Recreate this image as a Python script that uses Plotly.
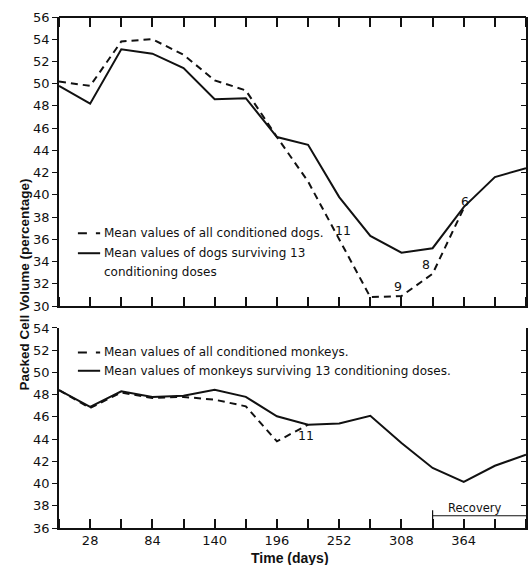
import plotly.graph_objects as go

# Sampling days (every 4 weeks)
days = [0, 28, 56, 84, 112, 140, 168, 196, 224, 252, 280, 308, 336, 364, 392, 420]

# Dogs: packed cell volume (%)
dogs_all = [50.2, 49.8, 53.8, 54.0, 52.6, 50.3, 49.4, 45.2, 41.2, 36.0, 30.8, 30.9, 32.9, 38.8]
dogs_surv = [49.8, 48.2, 53.1, 52.7, 51.4, 48.6, 48.7, 45.2, 44.5, 39.8, 36.3, 34.8, 35.2, 38.9, 41.6, 42.4]

# Monkeys: packed cell volume (%)
monk_all = [48.4, 46.8, 48.2, 47.7, 47.8, 47.55, 46.95, 43.8, 45.3]
monk_surv = [48.4, 46.9, 48.3, 47.8, 47.9, 48.45, 47.8, 46.05, 45.3, 45.4, 46.1, 43.65, 41.4, 40.15, 41.6, 42.6]

# Number of animals remaining at selected points
dog_counts = [(252, "11"), (308, "9"), (336, "8"), (364, "6")]
monk_counts = [(224, "11")]

x_tick_vals = list(range(0, 421, 28))
x_tick_text = [str(d) if (d - 28) % 56 == 0 else "" for d in x_tick_vals]

INK = "#111111"
FONT = "DejaVu Sans"
TITLE_FONT = "Liberation Sans"

top_dom = [0.4344, 1.0]
bot_dom = [0.0, 0.3914]

fig = go.Figure()

fig.add_trace(go.Scatter(x=days[:len(dogs_all)], y=dogs_all, mode="lines",
                         line=dict(color=INK, width=2, dash="7px,5px"),
                         xaxis="x", yaxis="y", showlegend=False))
fig.add_trace(go.Scatter(x=days, y=dogs_surv, mode="lines",
                         line=dict(color=INK, width=2),
                         xaxis="x", yaxis="y", showlegend=False))
fig.add_trace(go.Scatter(x=days[:len(monk_all)], y=monk_all, mode="lines",
                         line=dict(color=INK, width=2, dash="7px,5px"),
                         xaxis="x2", yaxis="y2", showlegend=False))
fig.add_trace(go.Scatter(x=days, y=monk_surv, mode="lines",
                         line=dict(color=INK, width=2),
                         xaxis="x2", yaxis="y2", showlegend=False))

# Empty traces that register the extra tick axes
for xa, ya in [("x", "y3"), ("x3", "y"), ("x4", "y"), ("x2", "y4"), ("x5", "y2")]:
    fig.add_trace(go.Scatter(x=[None], y=[None], xaxis=xa, yaxis=ya,
                             showlegend=False, hoverinfo="skip"))

base_x = dict(range=[0, 420], tickvals=x_tick_vals, showgrid=False, zeroline=False,
              tickcolor=INK, tickwidth=1.5, ticklen=9)


def tick_axis(over, side, pos, line=False):
    # Axis carrying only tick marks pointing into a panel
    return dict(base_x, overlaying=over, side=side, anchor="free", position=pos,
                ticks="outside", showticklabels=False, showline=line,
                linecolor=INK, linewidth=1.5)


y_common = dict(dtick=2, tickcolor=INK, showgrid=False, zeroline=False,
                linecolor=INK, linewidth=1.5, showline=True)

fig.update_layout(
    width=532, height=565,
    margin=dict(l=59, r=6, t=17, b=37),
    paper_bgcolor="white", plot_bgcolor="white",
    showlegend=False,
    # top panel
    xaxis=dict(base_x, anchor="y", ticks="", showticklabels=False, showline=True,
               linecolor=INK, linewidth=1.5),
    xaxis3=tick_axis("x", "top", top_dom[0]),
    xaxis4=tick_axis("x", "bottom", top_dom[1], line=True),
    yaxis=dict(y_common, domain=top_dom, range=[30, 56], ticks="outside", ticklen=5,
               tickwidth=1, anchor="x",
               tickfont=dict(family=FONT, size=13, color=INK)),
    yaxis3=dict(y_common, domain=top_dom, range=[30, 56], ticks="inside", ticklen=5,
                tickwidth=1, side="right", overlaying="y", anchor="x",
                showticklabels=False),
    # bottom panel
    xaxis2=dict(base_x, anchor="y2", ticks="", ticktext=x_tick_text, showline=True,
                linecolor=INK, linewidth=1.5,
                tickfont=dict(family=FONT, size=13, color=INK)),
    xaxis5=tick_axis("x2", "top", bot_dom[0]),
    yaxis2=dict(y_common, domain=bot_dom, range=[36, 54], ticks="outside", ticklen=5,
                tickwidth=1, anchor="x2",
                tickfont=dict(family=FONT, size=13, color=INK)),
    yaxis4=dict(y_common, domain=bot_dom, range=[36, 54], ticks="inside", ticklen=5,
                tickwidth=1, side="right", overlaying="y2", anchor="x2",
                showticklabels=False),
)

shapes = []
annotations = []
LEG_FONT = dict(family=FONT, size=12, color=INK)


def legend_row(xref, yref, y, dashed, text):
    shapes.append(dict(type="line", xref=xref, yref=yref, x0=17, x1=37, y0=y, y1=y,
                       line=dict(color=INK, width=2, dash="dash" if dashed else "solid")))
    annotations.append(dict(xref=xref, yref=yref, x=39, y=y, text=text, showarrow=False,
                            xanchor="left", yanchor="middle", font=LEG_FONT))


legend_row("x", "y", 36.55, True, "Mean values of all conditioned dogs.")
legend_row("x", "y", 34.75, False, "Mean values of dogs surviving 13")
annotations.append(dict(xref="x", yref="y", x=39, y=33.1, text="conditioning doses",
                        showarrow=False, xanchor="left", yanchor="middle", font=LEG_FONT))

legend_row("x2", "y2", 51.8, True, "Mean values of all conditioned monkeys.")
legend_row("x2", "y2", 50.15, False, "Mean values of monkeys surviving 13 conditioning doses.")

# Animal counts beside the curves
count_offsets = {252: (3.5, 0.8), 308: (-3, 0.9), 336: (-6, 0.8), 364: (1, 0.6)}
for d, txt in dog_counts:
    idx = days.index(d)
    dx, dy = count_offsets[d]
    annotations.append(dict(xref="x", yref="y", x=d + dx, y=dogs_all[idx] + dy, text=txt,
                            showarrow=False, font=dict(family=FONT, size=12.5, color=INK)))
for d, txt in monk_counts:
    idx = days.index(d)
    annotations.append(dict(xref="x2", yref="y2", x=d - 2, y=monk_all[idx] - 1.0, text=txt,
                            showarrow=False, font=dict(family=FONT, size=12.5, color=INK)))

# Recovery period bracket
shapes.append(dict(type="line", xref="x2", yref="y2", x0=336, x1=420, y0=37.1, y1=37.1,
                   line=dict(color=INK, width=1.2)))
shapes.append(dict(type="line", xref="x2", yref="y2", x0=336, x1=336, y0=36.3, y1=37.6,
                   line=dict(color=INK, width=1.2)))
annotations.append(dict(xref="x2", yref="y2", x=374, y=37.8, text="Recovery",
                        showarrow=False, font=dict(family=FONT, size=11.5, color=INK)))

# Axis titles
annotations.append(dict(xref="paper", yref="paper", x=0, y=0.4755, xshift=-44,
                        text="<b>Packed Cell Volume (percentage)</b>", textangle=-90,
                        showarrow=False, font=dict(family=TITLE_FONT, size=13.5, color=INK)))
annotations.append(dict(xref="paper", yref="paper", x=0.495, y=0, yshift=-20,
                        yanchor="top", text="<b>Time (days)</b>", showarrow=False,
                        font=dict(family=TITLE_FONT, size=14, color=INK)))

fig.update_layout(shapes=shapes, annotations=annotations)

fig.write_html("out.html")
